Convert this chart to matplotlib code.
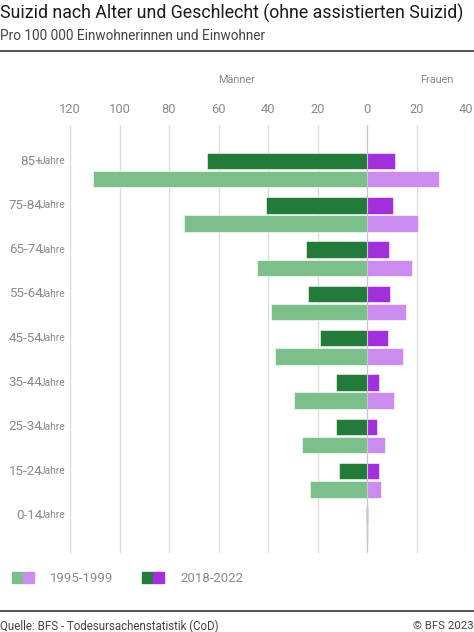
import matplotlib
matplotlib.use("Agg")
import matplotlib.pyplot as plt
from matplotlib.patches import Rectangle
from matplotlib.lines import Line2D
import numpy as np

plt.rcParams['font.family'] = ['Roboto', 'DejaVu Sans']

ages = ["85+", "75-84", "65-74", "55-64", "45-54", "35-44", "25-34", "15-24", "0-14"]
men_1995 = [110.8, 74.1, 44.4, 38.6, 37.1, 29.3, 26.1, 22.9, 0.4]
men_2018 = [64.8, 40.8, 24.5, 23.7, 18.8, 12.4, 12.4, 11.4, 0.3]
women_1995 = [29.1, 20.7, 18.3, 15.6, 14.6, 10.8, 7.2, 5.7, 0.3]
women_2018 = [11.5, 10.6, 8.8, 9.2, 8.5, 5.0, 4.2, 5.0, 0.6]
xticks = [-120, -100, -80, -60, -40, -20, 0, 20, 40]
legend_labels = ["1995-1999", "2018-2022"]

DG = "#237b3a"
LG = "#7dbf8a"
DP = "#a22edd"
LP = "#cc8cef"
GRID = "#dcdcdc"
TXT = "#8a8a8a"

W, H = 474, 632
fig = plt.figure(figsize=(W / 100, H / 100), dpi=100)

def fx(px):
    return px / W

def fy(py):
    return 1 - py / H

ax = fig.add_axes([fx(70), fy(553), fx(396), fy(125) - fy(553)])

y = np.arange(len(ages))
off = 0.205
h = 0.372
ax.barh(y - off, [-v for v in men_2018], height=h, color=DG, zorder=2, edgecolor="white", linewidth=0.4)
ax.barh(y - off, women_2018, height=h, color=DP, zorder=2, edgecolor="white", linewidth=0.4)
ax.barh(y + off, [-v for v in men_1995], height=h, color=LG, zorder=2, edgecolor="white", linewidth=0.4)
ax.barh(y + off, women_1995, height=h, color=LP, zorder=2, edgecolor="white", linewidth=0.4)

ax.set_xlim(-120, 40)
ax.set_ylim(8.643, -1.018)
for t in xticks:
    ax.axvline(t, color=GRID, lw=1.0, zorder=1)
ax.axvline(0, color="#c8c8c8", lw=0.8, zorder=3)

ax.xaxis.tick_top()
ax.set_xticks(xticks)
ax.set_xticklabels([str(abs(t)) for t in xticks], color=TXT, fontsize=9.3)
ax.tick_params(axis='x', length=0, pad=6.5)
ax.set_yticks([])
for s in ax.spines.values():
    s.set_visible(False)
ax.patch.set_alpha(0)

# age labels
for i, a in enumerate(ages):
    ax.annotate("Jahre", xy=(0, i - off), xycoords=('axes fraction', 'data'),
                xytext=(-4, 0), textcoords='offset pixels', ha='right', va='center',
                fontsize=7.4, color=TXT, annotation_clip=False)
    ax.annotate(a, xy=(0, i - off), xycoords=('axes fraction', 'data'),
                xytext=(-27.5, 0), textcoords='offset pixels', ha='right', va='center',
                fontsize=9.6, color=TXT, annotation_clip=False)

fig.text(fx(237), fy(80), "Männer", ha='center', va='center', fontsize=7.8, color=TXT)
fig.text(fx(437), fy(80), "Frauen", ha='center', va='center', fontsize=7.8, color=TXT)

# title
fig.text(0, fy(13), "Suizid nach Alter und Geschlecht (ohne assistierten Suizid)",
         ha='left', va='center', fontsize=12.8, color="#1a1a1a")
fig.text(0, fy(36), "Pro 100 000 Einwohnerinnen und Einwohner",
         ha='left', va='center', fontsize=9.8, color="#444444")

fig.add_artist(Line2D([0, 1], [fy(51), fy(51)], color="#333333", lw=1.2, transform=fig.transFigure))
fig.add_artist(Line2D([0, 1], [fy(611), fy(611)], color="#333333", lw=1.2, transform=fig.transFigure))

# legend
sw_h = 11
fig.add_artist(Rectangle((fx(12), fy(583)), fx(11), sw_h / H, color=LG, transform=fig.transFigure))
fig.add_artist(Rectangle((fx(23), fy(583)), fx(11), sw_h / H, color=LP, transform=fig.transFigure))
fig.text(fx(50), fy(578), legend_labels[0], ha='left', va='center', fontsize=9.5, color=TXT)
fig.add_artist(Rectangle((fx(142), fy(583)), fx(11), sw_h / H, color=DG, transform=fig.transFigure))
fig.add_artist(Rectangle((fx(153), fy(583)), fx(11), sw_h / H, color=DP, transform=fig.transFigure))
fig.text(fx(180), fy(578), legend_labels[1], ha='left', va='center', fontsize=9.5, color=TXT)

fig.text(0, fy(626), "Quelle: BFS - Todesursachenstatistik (CoD)", ha='left', va='center',
         fontsize=8.3, color="#444444")
fig.text(1, fy(626), "© BFS 2023", ha='right', va='center', fontsize=8.2, color="#444444")

fig.savefig("out.png", dpi=100)
